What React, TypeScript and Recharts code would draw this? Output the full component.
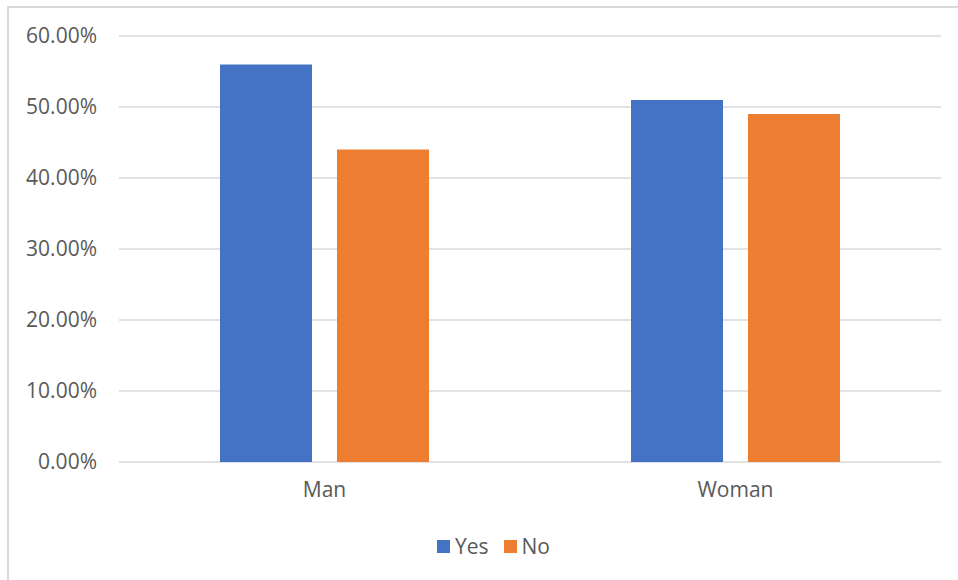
import { Bar, BarChart, CartesianGrid, XAxis, YAxis } from "recharts"

const categories = ["Man", "Woman"]
const yesValues = [0.56, 0.51]
const noValues = [0.44, 0.49]
const yTicks = [0, 0.1, 0.2, 0.3, 0.4, 0.5, 0.6]

const BLUE = "#4472C4"
const ORANGE = "#ED7D31"
const TEXT = "#595959"
const FONT = "'Open Sans', 'Noto Sans', sans-serif"

const data = categories.map((name, i) => ({ name, Yes: yesValues[i], No: noValues[i] }))

function LegendBox() {
  const items = [
    { label: "Yes", color: BLUE },
    { label: "No", color: ORANGE },
  ]
  return (
    <div style={{ display: "flex", alignItems: "center", fontFamily: FONT, fontSize: 21, color: TEXT }}>
      {items.map((it) => (
        <div key={it.label} style={{ display: "flex", alignItems: "center", marginRight: 15 }}>
          <span style={{ width: 13, height: 13, background: it.color, display: "inline-block", marginRight: 5 }} />
          <span>{it.label}</span>
        </div>
      ))}
    </div>
  )
}

export default function App() {
  return (
    <div style={{ position: "absolute", left: 0, top: 0, width: 958, height: 580, background: "#fff", overflow: "hidden" }}>
      <div
        style={{
          position: "absolute",
          left: 7,
          top: 6,
          width: 960,
          height: 600,
          borderLeft: "2px solid #d9d9d9",
          borderTop: "2px solid #d9d9d9",
        }}
      />
      <div style={{ position: "absolute", left: 0, top: 0 }}>
        <BarChart
          width={958}
          height={580}
          data={data}
          margin={{ top: 36, right: 17, bottom: 88, left: 0 }}
          barCategoryGap="24.6%"
          barGap={25}
        >
          <CartesianGrid vertical={false} stroke="#d9d9d9" strokeWidth={1.5} />
          <XAxis
            dataKey="name"
            height={30}
            axisLine={false}
            tickLine={false}
            tickSize={0}
            tickMargin={20}
            tick={{ fill: TEXT, fontSize: 21, fontFamily: FONT }}
          />
          <YAxis
            width={119}
            domain={[0, 0.6]}
            ticks={yTicks}
            axisLine={false}
            tickLine={false}
            tickSize={0}
            tickMargin={22}
            tickFormatter={(v: number) => `${(v * 100).toFixed(2)}%`}
            tick={{ fill: TEXT, fontSize: 21, fontFamily: FONT }}
          />
          <Bar dataKey="Yes" fill={BLUE} barSize={92} isAnimationActive={false} />
          <Bar dataKey="No" fill={ORANGE} barSize={92} isAnimationActive={false} />
        </BarChart>
      </div>
      <div style={{ position: "absolute", left: 437, top: 532 }}>
        <LegendBox />
      </div>
    </div>
  )
}
